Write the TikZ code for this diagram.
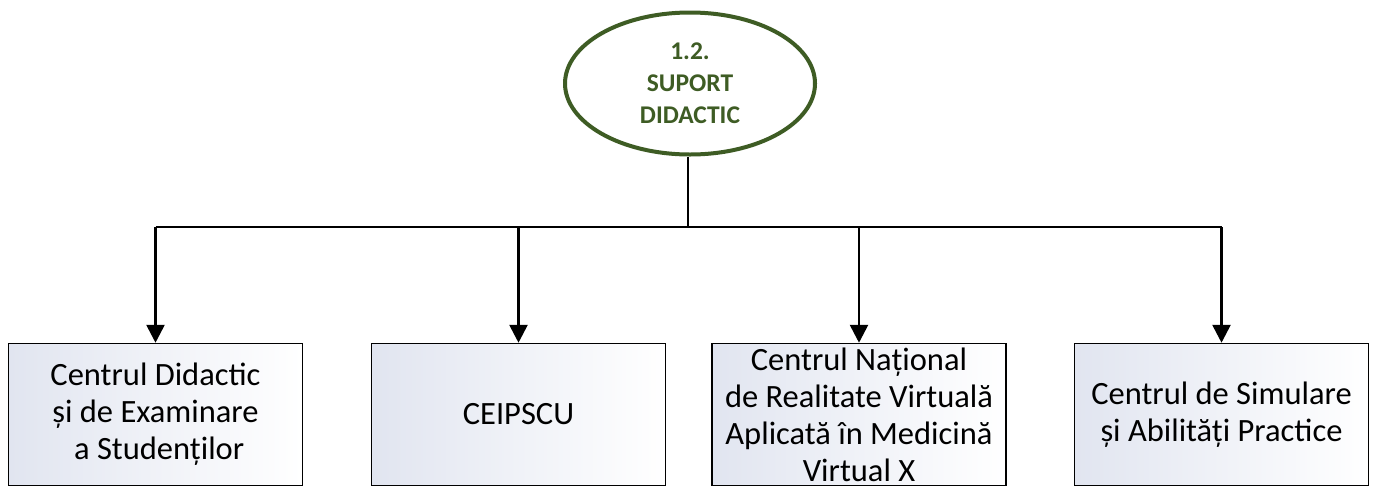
\documentclass[tikz,border=0pt]{standalone}
\usepackage{fontspec}
\setmainfont{Carlito}
\usetikzlibrary{shapes.geometric,arrows.meta}
\definecolor{olivedk}{HTML}{3E5C24}
\definecolor{boxleft}{HTML}{E1E5F0}
\tikzset{
  unitbox/.style={draw=black,line width=1.5pt,left color=boxleft,right color=white,
    minimum width=294pt,minimum height=142pt,inner sep=0pt,align=center,
    font=\fontsize{32.5}{37}\selectfont},
  conn/.style={line width=2.7pt,black},
  arr/.style={conn,-{Triangle[width=18pt,length=18pt]}}
}
\begin{document}
\begin{tikzpicture}[x=1pt,y=-1pt]
\useasboundingbox (0,0) rectangle (1379,488);
\node[ellipse,draw=olivedk,line width=4pt,fill=white,minimum width=250pt,minimum height=142pt,
  inner sep=0pt,align=center,text=olivedk,font=\fontsize{25.5}{32}\selectfont\bfseries] (top) at (690,83.5)
  {1.2.\\SUPORT\\DIDACTIC};
\node[unitbox] (b1) at (155.5,414.5) {Centrul Didactic\\și de Examinare\\\ a Studenților};
\node[unitbox] (b2) at (518.5,414.5) {CEIPSCU};
\node[unitbox] (b3) at (859,414.5) {Centrul Național\\de Realitate Virtuală\\Aplicată în Medicină\\Virtual X};
\node[unitbox] (b4) at (1221.5,414.5) {Centrul de Simulare\\și Abilități Practice};
\coordinate (hub) at (688,227);
\draw[conn] (top.south -| hub) -- (hub);
\draw[conn] (b1.north |- hub) -- (b4.north |- hub);
\draw[arr] (b1.north |- hub) -- (b1.north);
\draw[arr] (b2.north |- hub) -- (b2.north);
\draw[arr] (b3.north |- hub) -- (b3.north);
\draw[arr] (b4.north |- hub) -- (b4.north);
\end{tikzpicture}
\end{document}
